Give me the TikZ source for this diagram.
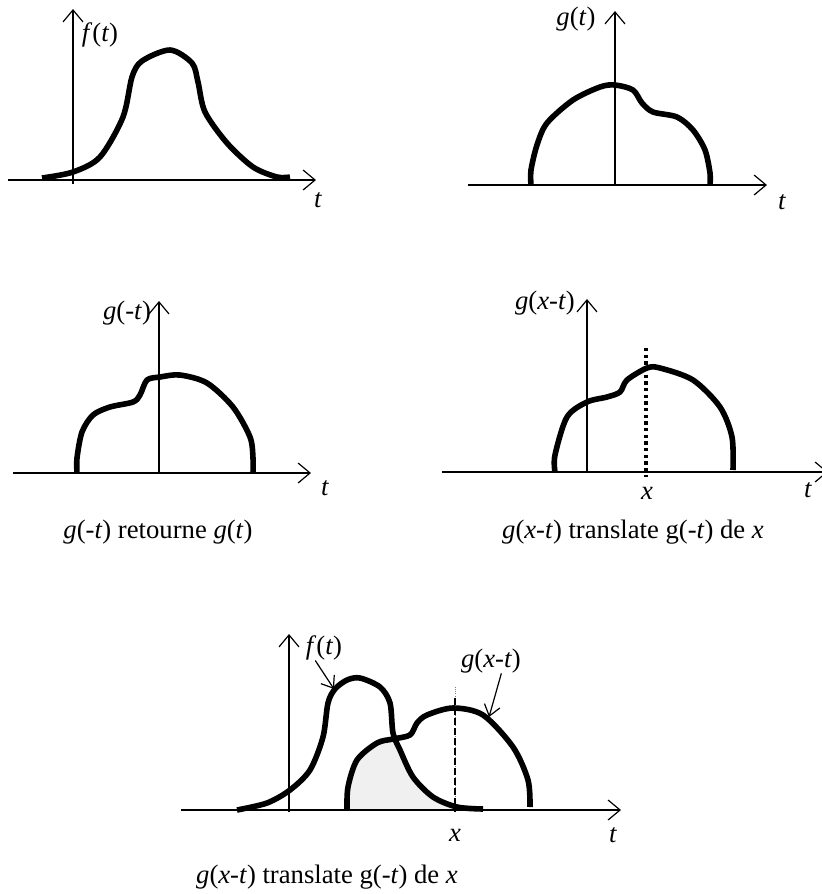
\documentclass[tikz,border=0pt]{standalone}
\usepackage{fontspec}
\setmainfont{Liberation Serif}
\usetikzlibrary{arrows.meta}
\newcommand{\iv}[1]{\textit{#1}}
\tikzset{
  >={Straight Barb[length=9pt,width=15pt]},
  every node/.style={font=\fontsize{20}{24}\selectfont},
  axis/.style={->, line width=0.9pt},
  curve/.style={line width=4.2pt, line join=round},
  lbl/.style={inner sep=0pt},
  pointer/.style={-{Straight Barb[length=8pt,width=12pt]}, line width=0.9pt},
  shade/.style={fill=black!6, draw=none},
  mark x/.style={line width=2.4pt, dash pattern=on 2.6pt off 2.4pt},
}

\begin{document}
\begin{tikzpicture}[x=0.75pt,y=-0.75pt]
\useasboundingbox (0,0) rectangle (822,894);

% ───────────── f(t) ─────────────
\coordinate (a1l) at (8,180);
\coordinate (a1r) at (316,180);
\coordinate (a1b) at (73,184);
\coordinate (a1t) at (73,9);
\draw[axis] (a1l) -- (a1r);
\draw[axis] (a1b) -- (a1t);
\draw[curve] plot[smooth] coordinates {(42,178) (73,172) (100,157) (123,117) (132,77) (142,61) (170,50) (192,63) (198,82) (205,112) (227,143) (253,167) (277,177) (290,177)};
\node[lbl] (f1) at (100,35) {\iv{f}(\iv{t})};
\node[lbl] (t1) at (318,200) {\iv{t}};

% ───────────── g(t) ─────────────
\coordinate (a2l) at (468,185);
\coordinate (a2r) at (767,185);
\coordinate (a2b) at (615,185);
\coordinate (a2t) at (615,11);
\draw[axis] (a2l) -- (a2r);
\draw[axis] (a2b) -- (a2t);
\draw[curve] plot[smooth] coordinates {(531,185) (531,170) (537,145) (547,123) (573,100) (600,87) (615,85) (633,90) (642,103) (653,112) (677,117) (693,130) (705,150) (710,173) (710,185)};
\node[lbl] (g2) at (576,19) {\iv{g}(\iv{t})};
\node[lbl] (t2) at (782,202) {\iv{t}};

% ───────────── g(-t) ─────────────
\coordinate (a3l) at (13,473);
\coordinate (a3r) at (311,473);
\coordinate (a3b) at (159,473);
\coordinate (a3t) at (159,301);
\draw[axis] (a3l) -- (a3r);
\draw[axis] (a3b) -- (a3t);
\draw[curve] plot[smooth] coordinates {(77,473) (77,458) (82,432) (93,415) (110,407) (133,402) (140,395) (147,380) (160,377) (180,375) (207,383) (233,407) (250,437) (253,458) (253,473)};
\node[lbl] (g3) at (127,313) {\iv{g}(-\iv{t})};
\node[lbl] (t3) at (325,488) {\iv{t}};
\node[lbl] (cap3) at (158,532) {\iv{g}(-\iv{t}) retourne \iv{g}(\iv{t})};

% ───────────── g(x-t) ─────────────
\coordinate (a4l) at (442,472);
\coordinate (a4r) at (828,472);
\coordinate (a4b) at (587,472);
\coordinate (a4t) at (587,299);
\coordinate (x4t) at (646,348);
\coordinate (x4b) at (646,477);
\draw[axis] (a4l) -- (a4r);
\draw[axis] (a4b) -- (a4t);
\draw[mark x] (x4t) -- (x4b);
\draw[curve] plot[smooth] coordinates {(555,472) (555,455) (567,417) (587,402) (607,397) (620,392) (627,380) (647,368) (660,368) (693,380) (720,407) (732,437) (733,470)};
\node[lbl] (g4) at (545,303) {\iv{g}(\iv{x}-\iv{t})};
\node[lbl] (x4) at (647,493) {\iv{x}};
\node[lbl] (t4) at (808,490) {\iv{t}};
\node[lbl] (cap4) at (633,532) {\iv{g}(\iv{x}-\iv{t}) translate g(-\iv{t}) de \iv{x}};

% ───────────── f(t) et g(x-t) ─────────────
\coordinate (a5l) at (181,810);
\coordinate (a5r) at (621,810);
\coordinate (a5b) at (289,812);
\coordinate (a5t) at (289,634);
\coordinate (x5t) at (455,687);
\coordinate (x5m) at (455,698);
\coordinate (x5b) at (455,812);
% recouvrement
\fill[shade] plot[smooth] coordinates {(347,810) (348,787) (357,760) (377,743) (394,739)}
  -- plot[smooth] coordinates {(394,739) (400,750) (413,777) (433,797) (455,806)} -- (455,810) -- cycle;
\draw[axis] (a5l) -- (a5r);
\draw[axis] (a5b) -- (a5t);
\draw[gray, line width=0.6pt, densely dotted] (x5t) -- (x5b);
\draw[mark x, line width=2pt, dash pattern=on 5pt off 2.5pt] (x5m) -- (x5b);
\draw[curve] plot[smooth] coordinates {(237,810) (267,803) (290,790) (310,770) (323,737) (328,703) (335,689) (347,680) (360,678) (380,687) (390,703) (393,733) (400,750) (413,777) (433,797) (457,807) (483,809)};
\draw[curve] plot[smooth] coordinates {(347,810) (348,787) (357,760) (377,743) (393,739) (410,735) (417,723) (427,715) (453,708) (483,715) (513,747) (528,780) (530,807)};
\node[lbl] (f5) at (324,648) {\iv{f}(\iv{t})};
\node[lbl] (g5) at (491,661) {\iv{g}(\iv{x}-\iv{t})};
\coordinate (f5tip) at (334,689);
\coordinate (g5tip) at (489,717);
\draw[pointer] (f5.235) -- (f5tip);
\draw[pointer] (g5.-50) -- (g5tip);
\node[lbl] (x5) at (455,835) {\iv{x}};
\node[lbl] (t5) at (613,835) {\iv{t}};
\node[lbl] (cap5) at (327,877) {\iv{g}(\iv{x}-\iv{t}) translate g(-\iv{t}) de \iv{x}};

\end{tikzpicture}
\end{document}
